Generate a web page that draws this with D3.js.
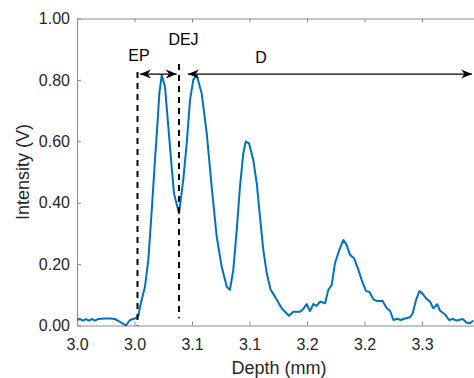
<!DOCTYPE html>
<html>
<head>
<meta charset="utf-8">
<script src="https://cdn.jsdelivr.net/npm/d3@7"></script>
<style>
  body { margin: 0; background: #fff; }
  svg { display: block; font-family: "Liberation Sans", Arial, Helvetica, sans-serif; }
  .axis path, .axis line { stroke: #8c8c8c; }
  .axis text { fill: #262626; font-size: 16px; }
</style>
</head>
<body>
<svg id="root"></svg>
<script>
const depth = [
  3.0000, 3.0026, 3.0052, 3.0078, 3.0104, 3.0130, 3.0157, 3.0183,
  3.0243, 3.0287, 3.0330, 3.0374, 3.0426, 3.0461, 3.0504, 3.0533,
  3.0548, 3.0591, 3.0620, 3.0650, 3.0678, 3.0698, 3.0716, 3.0737, 3.0765, 3.0794, 3.0823, 3.0843,
  3.0887, 3.0924, 3.0954, 3.0983, 3.1011, 3.1041, 3.1084, 3.1128, 3.1171, 3.1215, 3.1258, 3.1302,
  3.1330, 3.1359, 3.1389, 3.1417, 3.1446, 3.1467, 3.1496, 3.1533, 3.1563, 3.1591, 3.1620, 3.1650,
  3.1684, 3.1722, 3.1780, 3.1809, 3.1843, 3.1881, 3.1939, 3.1968, 3.1997, 3.2026, 3.2055, 3.2084,
  3.2113, 3.2157, 3.2185, 3.2215, 3.2243, 3.2281, 3.2316, 3.2345, 3.2374, 3.2409, 3.2437, 3.2476,
  3.2513, 3.2542, 3.2577, 3.2606, 3.2658, 3.2693, 3.2722, 3.2751, 3.2785, 3.2815, 3.2852, 3.2896,
  3.2919, 3.2948, 3.2977, 3.3006, 3.3041, 3.3070, 3.3098, 3.3133, 3.3157, 3.3200, 3.3235, 3.3267,
  3.3302, 3.3354, 3.3389, 3.3417, 3.3446
];
const intensity = [
  0.018, 0.021, 0.016, 0.021, 0.016, 0.021, 0.016, 0.021,
  0.023, 0.023, 0.021, 0.012, 0.000, 0.018, 0.023, 0.030,
  0.061, 0.126, 0.213, 0.376, 0.539, 0.648, 0.756, 0.816, 0.778, 0.648, 0.517, 0.431,
  0.365, 0.474, 0.593, 0.735, 0.800, 0.816, 0.756, 0.626, 0.452, 0.289, 0.192, 0.126,
  0.116, 0.181, 0.311, 0.452, 0.561, 0.599, 0.593, 0.539, 0.463, 0.354, 0.246, 0.170,
  0.116, 0.094, 0.056, 0.045, 0.032, 0.045, 0.045, 0.054, 0.070, 0.047, 0.070, 0.064,
  0.078, 0.072, 0.116, 0.132, 0.203, 0.246, 0.279, 0.262, 0.230, 0.219, 0.192, 0.148,
  0.112, 0.110, 0.085, 0.080, 0.080, 0.056, 0.048, 0.018, 0.022, 0.018, 0.023, 0.027,
  0.040, 0.083, 0.112, 0.103, 0.086, 0.078, 0.056, 0.069, 0.048, 0.036, 0.018, 0.021,
  0.016, 0.021, 0.009, 0.007, 0.016
];

const xTicks = [3.00, 3.05, 3.10, 3.15, 3.20, 3.25, 3.30];
const xTickLabels = ['3.0', '3.0', '3.1', '3.1', '3.2', '3.2', '3.3'];
const yTicks = [0, 0.2, 0.4, 0.6, 0.8, 1.0];

// boundaries (dashed lines) and the spans between them
const boundaryNames = ['EP', 'DEJ'];
const boundaryDepth = [3.0526, 3.0887];
const boundaryTop = [0.826, 0.852];
const boundaryBottom = [0.0, 0.024];
const spanNames = ['', 'D'];
const spanFrom = [3.0548, 3.0965];
const spanTo = [3.0867, 3.3435];
const spanLevel = 0.819;

const width = 474, height = 378;
const margin = { top: 18.5, right: 0, bottom: 52.5, left: 77 };

const x = d3.scaleLinear()
    .domain([3.0, 3.3452])
    .range([margin.left, width - margin.right]);
const y = d3.scaleLinear()
    .domain([0, 1])
    .range([height - margin.bottom, margin.top]);

const svg = d3.select('#root')
    .attr('width', width)
    .attr('height', height);

// axes, MATLAB style: ticks point inwards
svg.append('g')
    .attr('class', 'x axis')
    .attr('transform', `translate(0, ${y(0)})`)
    .call(d3.axisBottom(x).tickValues(xTicks)
        .tickFormat((d, i) => xTickLabels[i])
        .tickSizeInner(-4).tickSizeOuter(0).tickPadding(13));

svg.append('g')
    .attr('class', 'x axis top')
    .attr('transform', `translate(0, ${y(1)})`)
    .call(d3.axisTop(x).tickValues(xTicks).tickFormat('')
        .tickSizeInner(-4).tickSizeOuter(0));

svg.append('g')
    .attr('class', 'y axis')
    .attr('transform', `translate(${x(3.0)}, 0)`)
    .call(d3.axisLeft(y).tickValues(yTicks)
        .tickFormat(d3.format('.2f'))
        .tickSizeInner(-4).tickSizeOuter(0).tickPadding(7));

svg.selectAll('.axis .domain').attr('stroke', '#8c8c8c');

// labels
svg.append('text')
    .attr('x', 279)
    .attr('y', 374)
    .attr('text-anchor', 'middle')
    .attr('fill', '#262626')
    .style('font-size', '18px')
    .text('Depth (mm)');

svg.append('text')
    .attr('transform', 'translate(29, 172) rotate(-90)')
    .attr('text-anchor', 'middle')
    .attr('fill', '#262626')
    .style('font-size', '18px')
    .text('Intensity (V)');

// trace
const line = d3.line()
    .x((d, i) => x(depth[i]))
    .y(d => y(d));

svg.append('path')
    .datum(intensity)
    .attr('fill', 'none')
    .attr('stroke', '#0072BD')
    .attr('stroke-width', 2)
    .attr('stroke-linejoin', 'round')
    .attr('d', line);

// arrow heads
const defs = svg.append('defs');
defs.append('marker')
    .attr('id', 'head')
    .attr('viewBox', '-12 -6 14 12')
    .attr('refX', 0).attr('refY', 0)
    .attr('markerWidth', 14).attr('markerHeight', 12)
    .attr('markerUnits', 'userSpaceOnUse')
    .attr('orient', 'auto-start-reverse')
    .append('path')
    .attr('d', 'M0,0 L-11,-4.5 L-7.5,0 L-11,4.5 Z')
    .attr('fill', '#000');

// boundaries
svg.selectAll('.boundary')
    .data(boundaryDepth)
    .enter().append('line')
    .attr('class', 'boundary')
    .attr('x1', d => x(d)).attr('x2', d => x(d))
    .attr('y1', (d, i) => y(boundaryTop[i]))
    .attr('y2', (d, i) => y(boundaryBottom[i]))
    .attr('stroke', '#000')
    .attr('stroke-width', 2)
    .attr('stroke-dasharray', '6,5');

const labelLevel = [0.860, 0.915];
svg.selectAll('.blabel')
    .data(boundaryNames)
    .enter().append('text')
    .attr('class', 'blabel')
    .attr('x', (d, i) => x(boundaryDepth[i]) + [1.5, 4.5][i])
    .attr('y', (d, i) => y(labelLevel[i]))
    .attr('text-anchor', 'middle')
    .style('font-size', '16px')
    .attr('fill', '#000')
    .text(d => d);

// spans
svg.selectAll('.span')
    .data(spanFrom)
    .enter().append('line')
    .attr('class', 'span')
    .attr('x1', d => x(d))
    .attr('x2', (d, i) => x(spanTo[i]))
    .attr('y1', y(spanLevel)).attr('y2', y(spanLevel))
    .attr('stroke', '#000')
    .attr('stroke-width', 1.2)
    .attr('marker-start', 'url(#head)')
    .attr('marker-end', 'url(#head)');

svg.selectAll('.slabel')
    .data(spanNames)
    .enter().append('text')
    .attr('class', 'slabel')
    .attr('x', (d, i) => x(spanFrom[i]) + 73)
    .attr('y', y(0.854))
    .attr('text-anchor', 'middle')
    .style('font-size', '16px')
    .attr('fill', '#000')
    .text(d => d);
</script>
</body>
</html>
